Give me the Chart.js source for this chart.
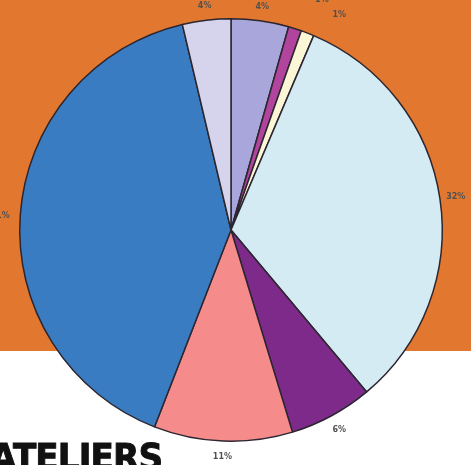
<!DOCTYPE html>
<html>
<head>
<meta charset="utf-8">
<script src="https://cdn.jsdelivr.net/npm/chart.js@4/dist/chart.umd.min.js"></script>
<style>
  html, body { margin: 0; padding: 0; }
  body {
    width: 471px; height: 465px; overflow: hidden; position: relative;
    background: linear-gradient(#e2782f 0, #e2782f 351px, #ffffff 351px);
  }
  #my_chart { position: absolute; left: 0; top: 0; }
  .title {
    position: absolute; left: -10px; top: 435px;
    font-family: "DejaVu Sans", sans-serif; font-weight: 900;
    font-size: 38px; letter-spacing: -1px; color: #111;
    -webkit-text-stroke: 1px #111;
    transform: scaleX(0.9); transform-origin: left top;
  }
</style>
</head>
<body>
<canvas id="my_chart" width="471" height="465"></canvas>
<div class="title">ATELIERS</div>
<script>
// slices clockwise from 12 o'clock
var categories = ["A", "B", "C", "D", "E", "F", "G", "H"];
var shares = [4.4, 1.0, 1.0, 32.5, 6.4, 10.6, 40.4, 3.7];
var shareLabels = ["4%", "1%", "1%", "32%", "6%", "11%", "41%", "4%"];
var colors = ["#a9a6dc", "#b1449c", "#fbf6d6", "#d4ebf4", "#7d2a8b", "#f58b8b", "#3a7cc2", "#d6d4ec"];

(function () {
    "use strict";

    // draws the percent labels just outside the rim
    var outsideLabels = {
        id: "outsideLabels",
        afterDatasetsDraw: function (chart, args, opts) {
            var ctx = chart.ctx;
            var meta = chart.getDatasetMeta(0);
            ctx.save();
            ctx.globalCompositeOperation = "multiply";
            ctx.fillStyle = "#505050";
            ctx.font = "bold 8px 'DejaVu Sans', sans-serif";
            ctx.textAlign = "center";
            ctx.textBaseline = "middle";
            meta.data.forEach(function (arc, i) {
                var a = (arc.startAngle + arc.endAngle) / 2;
                var r = arc.outerRadius + opts.gap;
                var nudge = opts.nudge[i] || [0, 0];
                var x = arc.x + Math.cos(a) * r + nudge[0];
                var y = arc.y + Math.sin(a) * r + nudge[1];
                ctx.fillText(shareLabels[i], x, y);
            });
            ctx.restore();
        },
    };

    var ctx = document.getElementById("my_chart").getContext("2d");
    var myChart = new Chart(ctx, {
        type: "pie",
        data: {
            labels: categories,
            datasets: [
                {
                    data: shares,
                    backgroundColor: colors,
                    borderColor: "#2c2630",
                    borderWidth: 1.5,
                },
            ],
        },
        options: {
            responsive: false,
            animation: false,
            layout: { padding: { left: 19, right: 28, top: 18, bottom: 23 } },
            plugins: {
                legend: { display: false },
                tooltip: { enabled: false },
                outsideLabels: {
                    gap: 16,
                    nudge: { 0: [0, 2], 1: [22, -14], 2: [26, -3], 6: [-4, 2], 7: [0, 2] },
                },
            },
        },
        plugins: [outsideLabels],
    });
})();
</script>
</body>
</html>
